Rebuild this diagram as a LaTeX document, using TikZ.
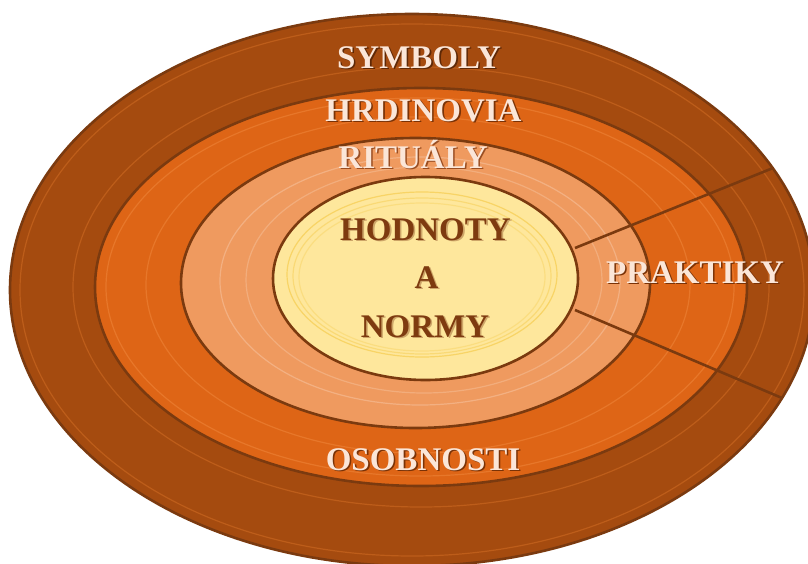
\documentclass[tikz,border=0pt]{standalone}
\usepackage{fontspec}
\setmainfont{Liberation Serif}
\definecolor{ringA}{HTML}{A54B0F}
\definecolor{ringB}{HTML}{DE6516}
\definecolor{ringC}{HTML}{EF9A5F}
\definecolor{ringD}{HTML}{FEE79C}
\definecolor{edgeC}{HTML}{7B3A0F}
\definecolor{faintA}{HTML}{BD5D1A}
\definecolor{faintB}{HTML}{E7772A}
\definecolor{faintC}{HTML}{F6C09A}
\definecolor{faintD}{HTML}{F8D466}
\definecolor{lightTxt}{HTML}{FBE6D8}
\definecolor{darkTxt}{HTML}{7E3B10}
\definecolor{shA}{HTML}{5E2806}
\definecolor{shB}{HTML}{7A3206}
\definecolor{shC}{HTML}{9A4E22}
\definecolor{shD}{HTML}{CDA568}
\newcommand\shtxt[2]{\makebox[0pt][l]{\hspace{1.6pt}\raisebox{-1.6pt}{\color{#1}#2}}#2}
\tikzset{
  ring/.style={draw=edgeC, line width=2.6pt},
  faint/.style={line width=1.2pt},
  divider/.style={draw=edgeC, line width=2.6pt},
  lbl/.style={font=\bfseries\fontsize{33}{36}\selectfont, inner sep=0pt, anchor=base},
  lightlbl/.style={lbl, text=lightTxt},
  darklbl/.style={lbl, text=darkTxt},
}
\begin{document}
\begin{tikzpicture}[x=1pt,y=-1pt]
\useasboundingbox (0,0) rectangle (808,563);
\fill[white] (0,0) rectangle (808,563);
\clip (0,0) rectangle (808,563);
% outer ring
\filldraw[ring, fill=ringA] (412,290) ellipse [x radius=402pt, y radius=276pt];
\draw[faint, draw=faintA] (412,290) ellipse [x radius=392pt, y radius=266pt];
\draw[faint, draw=faintA] (421,287) ellipse [x radius=348pt, y radius=220pt];
% second ring
\filldraw[ring, fill=ringB] (421,287) ellipse [x radius=326pt, y radius=199pt];
\draw[faint, draw=faintB] (420,287) ellipse [x radius=314pt, y radius=189pt];
\draw[faint, draw=faintB] (418,285) ellipse [x radius=272pt, y radius=168pt];
% third ring
\filldraw[ring, fill=ringC] (415.5,283) ellipse [x radius=234.5pt, y radius=145pt];
\draw[faint, draw=faintC, opacity=0.6] (420,281) ellipse [x radius=200pt, y radius=124pt];
\draw[faint, draw=faintC, opacity=0.5] (424,280) ellipse [x radius=178pt, y radius=113pt];
% core
\filldraw[ring, fill=ringD] (425.5,278.5) ellipse [x radius=152.5pt, y radius=101.5pt];
\draw[faint, draw=faintD] (422,274.5) ellipse [x radius=135pt, y radius=82.5pt];
\draw[faint, draw=faintD, opacity=0.7] (422,276) ellipse [x radius=129pt, y radius=78pt];
\draw[faint, draw=faintD, opacity=0.5] (422,277) ellipse [x radius=123pt, y radius=74pt];
% dividers
\coordinate (u1) at (575,248);
\coordinate (u2) at (773,168);
\coordinate (l1) at (575,310);
\coordinate (l2) at (782,398);
\draw[divider] (u1) -- (u2);
\draw[divider] (l1) -- (l2);
% labels
\node[lightlbl] (sym) at (419,68) {\shtxt{shA}{SYMBOLY}};
\node[lightlbl] (hrd) at (423.5,121) {\shtxt{shB}{HRDINOVIA}};
\node[lightlbl] (rit) at (413,168) {\shtxt{shC}{RITUÁLY}};
\node[lightlbl] (pra) at (695,283) {\shtxt{shB}{PRAKTIKY}};
\node[lightlbl] (oso) at (423,470) {\shtxt{shB}{OSOBNOSTI}};
\node[darklbl] (hod) at (425.5,240) {\shtxt{shD}{HODNOTY}};
\node[darklbl] (a) at (426.5,288) {\shtxt{shD}{A}};
\node[darklbl] (nor) at (425,337) {\shtxt{shD}{NORMY}};
\end{tikzpicture}
\end{document}
